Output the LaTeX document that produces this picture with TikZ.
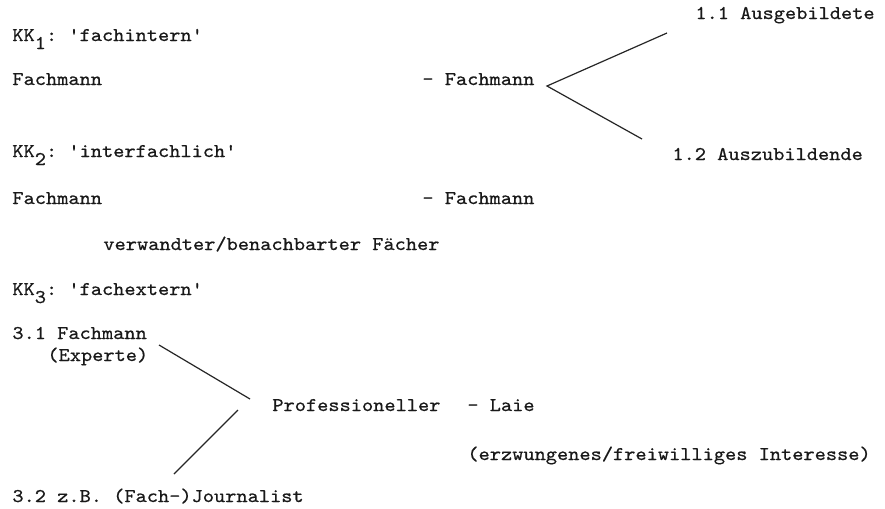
\documentclass[tikz,border=0pt]{standalone}
\usepackage{fontspec}
\setmonofont{lmmono10-regular}[Extension=.otf, FakeStretch=1.1, FakeBold=0.6]
\newcommand{\lowsub}[1]{\raisebox{-4pt}{#1}}
\begin{document}
\begin{tikzpicture}[x=0.5pt,y=-0.5pt,
  txt/.style={anchor=base west, inner sep=0pt, text=black!90,
    font=\ttfamily\fontsize{9.7pt}{11pt}\selectfont},
  ln/.style={line width=0.6pt, black!85}]
\useasboundingbox[fill=white] (0,0) rectangle (885,509);
% KK1
\node[txt] (t11) at (695,19) {1.1 Ausgebildete};
\node[txt] (kk1) at (12,41) {KK\lowsub{1}: 'fachintern'};
\node[txt] (fa1) at (12,85) {Fachmann};
\node[txt] (fb1) at (422,85) {- Fachmann};
\node[txt] (t12) at (672,160) {1.2 Auszubildende};
\coordinate (apex) at (547,86);
\coordinate (up) at (667,33);
\coordinate (lo) at (642,139);
\draw[ln] (up) -- (apex) -- (lo);
% KK2
\node[txt] (kk2) at (12,157) {KK\lowsub{2}: 'interfachlich'};
\node[txt] (fa2) at (12,204) {Fachmann};
\node[txt] (fb2) at (422,204) {- Fachmann};
\node[txt] (verw) at (103,250) {verwandter/benachbarter Fächer};
% KK3
\node[txt] (kk3) at (12,295) {KK\lowsub{3}: 'fachextern'};
\node[txt] (t31) at (12,339) {3.1 Fachmann};
\node[txt] (exp) at (47,361) {(Experte)};
\node[txt] (prof) at (272,411) {Professioneller};
\node[txt] (laie) at (467,411) {- Laie};
\node[txt] (erz) at (467,460) {(erzwungenes/freiwilliges Interesse)};
\node[txt] (t32) at (12,502) {3.2 z.B. (Fach-)Journalist};
\coordinate (a1) at (159,345);
\coordinate (a2) at (250,399);
\coordinate (b1) at (238,410);
\coordinate (b2) at (174,474);
\draw[ln] (a1) -- (a2);
\draw[ln] (b1) -- (b2);
\end{tikzpicture}
\end{document}
